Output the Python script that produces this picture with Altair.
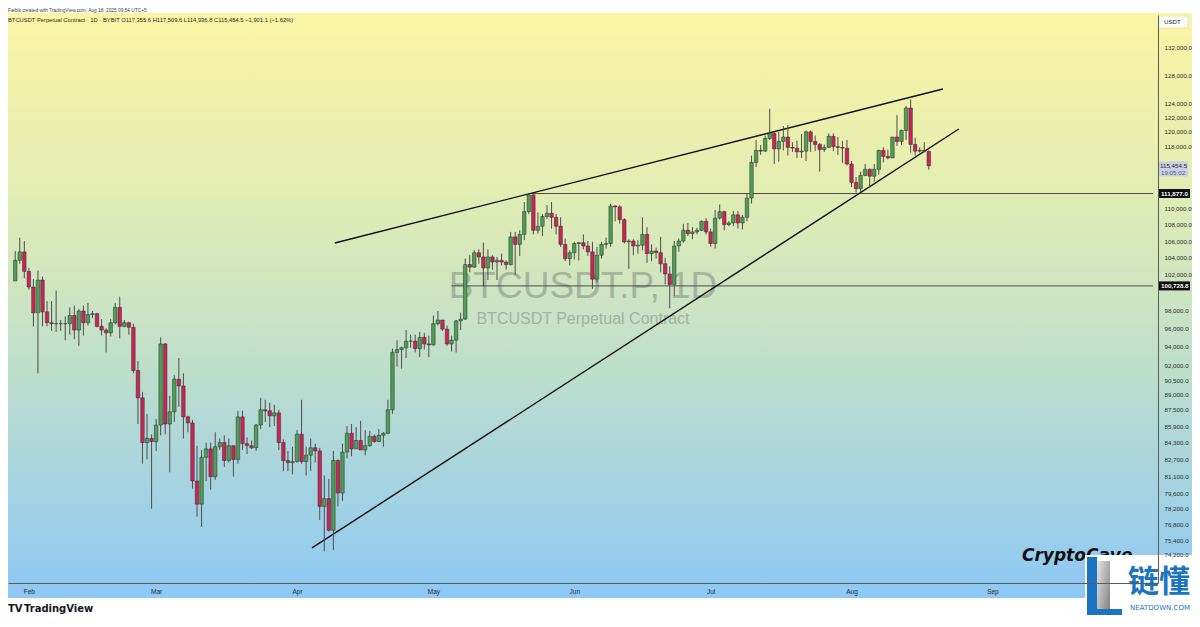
import altair as alt
import pandas as pd

# ---------------- data (thousands of USDT, daily, 2025-01-29 .. 2025-08-18) -------------
start_date = "2025-01-29"
end_date = "2025-08-18"

opens = [
    101.3, 103.7, 104.7,
    102.4, 100.6, 97.7, 101.4, 97.8, 96.6, 96.5, 96.5, 96.5, 96.5, 97.4, 95.8, 97.9, 96.6, 97.5, 97.6, 96.2, 95.8, 95.5, 96.6, 98.3, 96.2, 96.6, 96.1, 91.5, 88.7, 84.3, 84.7,
    84.4, 86.0, 94.3, 86.1, 87.3, 90.6, 89.9, 86.8, 86.2, 80.7, 78.6, 82.9, 83.7, 81.1, 83.9, 84.3, 82.6, 84.0, 82.7, 86.8, 84.2, 84.0, 83.8, 86.0, 87.5, 87.4, 86.9, 87.2, 84.3, 82.6, 82.4,
    82.5, 85.1, 82.5, 83.1, 83.8, 83.5, 78.4, 79.1, 76.3, 82.6, 79.6, 83.4, 85.2, 83.7, 84.5, 83.6, 84.0, 84.9, 84.4, 85.0, 85.2, 87.5, 93.4, 93.7, 93.9, 94.6, 94.6, 93.8, 95.0, 94.3,
    94.2, 96.5, 96.9, 95.9, 94.3, 94.7, 96.8, 97.0, 103.2, 102.9, 104.6, 104.1, 102.8, 104.1, 103.5, 103.7, 103.5, 103.2, 106.5, 105.6, 106.8, 109.6, 111.7, 107.3, 107.8, 109.0, 109.4, 108.9, 107.8, 105.6, 103.9,
    104.6, 105.7, 105.8, 105.4, 104.7, 101.5, 104.3, 105.6, 105.7, 110.3, 110.2, 108.6, 105.9, 106.0, 105.4, 105.5, 106.8, 104.5, 104.8, 104.6, 103.3, 102.1, 100.9, 105.4, 106.0, 107.3, 106.9, 107.1, 107.3, 108.4,
    107.1, 105.7, 108.8, 109.6, 108.0, 108.2, 109.2, 108.2, 108.9, 111.3, 115.9, 117.5, 117.4, 119.1, 119.8, 117.7, 118.7, 119.3, 117.9, 117.8, 117.3, 117.4, 120.0, 118.7, 118.3, 117.6, 117.9, 119.4, 118.0, 117.9, 117.8,
    115.7, 113.3, 112.5, 114.2, 115.0, 114.1, 115.0, 117.5, 116.7, 116.5, 119.3, 118.7, 120.2, 123.3, 118.3, 117.4, 117.5, 117.3556,
]
highs = [
    104.8, 106.4, 106.0,
    102.8, 101.5, 102.5, 101.8, 99.0, 99.0, 100.2, 96.9, 97.3, 98.3, 98.5, 98.1, 98.5, 98.8, 97.9, 97.7, 97.0, 96.0, 97.0, 98.8, 99.5, 96.9, 96.7, 96.5, 92.5, 89.3, 87.1, 85.1,
    86.6, 95.0, 94.4, 88.9, 91.0, 92.8, 91.2, 86.9, 86.5, 84.0, 83.6, 84.3, 84.3, 85.3, 84.7, 85.0, 84.7, 84.0, 87.4, 87.4, 84.8, 84.5, 86.1, 88.7, 88.5, 88.2, 88.0, 87.5, 84.6, 83.5, 83.9,
    85.5, 88.5, 83.9, 84.7, 84.2, 83.8, 81.2, 80.9, 83.5, 82.7, 84.2, 85.9, 86.1, 85.8, 86.4, 85.5, 85.4, 85.1, 85.6, 85.3, 88.5, 93.8, 94.7, 94.0, 95.8, 95.3, 95.3, 95.6, 95.5, 95.2,
    97.4, 97.9, 96.9, 96.3, 95.2, 96.9, 97.7, 103.9, 104.3, 104.9, 105.0, 105.8, 105.0, 104.3, 104.1, 104.5, 103.7, 107.1, 107.1, 107.3, 110.8, 111.9, 111.8, 109.5, 109.3, 110.4, 110.8, 109.3, 108.9, 106.3, 104.9,
    105.9, 105.9, 106.8, 106.0, 105.9, 105.3, 105.9, 106.4, 110.6, 110.4, 110.4, 108.8, 106.2, 106.2, 106.1, 108.9, 107.7, 105.6, 105.2, 106.5, 104.0, 103.0, 106.0, 106.3, 108.1, 108.2, 107.7, 107.6, 108.5, 108.8,
    107.5, 109.8, 110.5, 109.7, 108.4, 109.7, 109.7, 109.2, 111.9, 116.8, 118.9, 118.2, 119.5, 123.2, 119.9, 120.0, 120.8, 120.9, 118.6, 118.8, 119.7, 120.2, 120.2, 119.5, 118.5, 118.3, 119.8, 119.8, 119.3, 118.8, 118.9,
    116.1, 114.0, 114.7, 115.7, 115.1, 115.7, 117.6, 117.9, 117.6, 119.3, 122.3, 120.3, 123.6, 124.5, 119.2, 117.9, 118.6, 117.5096,
]
lows = [
    101.3, 103.3, 101.6,
    100.3, 96.2, 91.2, 96.2, 96.2, 95.7, 95.6, 95.7, 94.7, 95.3, 94.8, 94.1, 95.2, 96.3, 97.1, 96.1, 95.2, 93.4, 95.1, 96.4, 94.9, 96.1, 95.3, 91.2, 86.1, 82.3, 82.7, 78.2,
    83.5, 85.0, 85.1, 81.5, 86.3, 87.8, 84.7, 85.3, 80.0, 77.5, 76.6, 80.7, 79.9, 80.8, 83.6, 82.0, 82.4, 81.1, 82.3, 83.6, 83.2, 83.7, 83.5, 85.6, 86.3, 85.8, 85.9, 83.6, 81.6, 81.6, 81.3,
    82.4, 82.3, 81.2, 81.6, 82.4, 77.2, 74.5, 76.2, 74.6, 78.4, 78.9, 82.8, 83.0, 83.7, 83.6, 83.1, 83.9, 84.3, 84.4, 83.9, 85.1, 87.1, 91.9, 91.7, 92.8, 93.9, 93.4, 92.9, 93.7, 92.9,
    94.1, 96.3, 95.7, 94.1, 93.5, 93.4, 95.8, 96.9, 102.3, 102.8, 103.3, 100.7, 101.4, 102.6, 101.4, 103.1, 102.6, 103.1, 102.0, 104.2, 106.1, 109.3, 106.8, 106.9, 106.6, 108.7, 107.5, 106.8, 105.3, 103.6, 103.1,
    103.8, 103.7, 105.0, 104.2, 100.4, 101.1, 103.9, 105.1, 105.3, 108.4, 108.1, 105.7, 102.7, 104.3, 104.5, 104.9, 103.4, 103.6, 103.9, 102.3, 100.9, 98.2, 99.6, 104.7, 105.8, 106.6, 106.2, 106.8, 107.2, 106.8,
    105.3, 105.1, 108.6, 107.3, 107.8, 107.8, 107.5, 107.4, 108.4, 110.6, 115.3, 116.9, 117.3, 118.9, 115.7, 116.0, 117.5, 116.8, 117.3, 116.5, 116.5, 116.1, 117.3, 117.4, 114.7, 117.3, 117.8, 117.4, 116.9, 115.8, 115.5,
    112.7, 112.0, 112.0, 114.1, 112.6, 113.4, 114.3, 115.9, 116.3, 116.5, 118.1, 118.2, 118.9, 117.2, 116.8, 117.2, 117.2, 114.9368,
]
closes = [
    103.7, 104.7, 102.4,
    100.6, 97.7, 101.4, 97.8, 96.6, 96.5, 96.5, 96.5, 96.5, 97.4, 95.8, 97.9, 96.6, 97.5, 97.6, 96.2, 95.8, 95.5, 96.6, 98.3, 96.2, 96.6, 96.1, 91.5, 88.7, 84.3, 84.7, 84.4,
    86.0, 94.3, 86.1, 87.3, 90.6, 89.9, 86.8, 86.2, 80.7, 78.6, 82.9, 83.7, 81.1, 83.9, 84.3, 82.6, 84.0, 82.7, 86.8, 84.2, 84.0, 83.8, 86.0, 87.5, 87.4, 86.9, 87.2, 84.3, 82.6, 82.4, 82.5,
    85.1, 82.5, 83.1, 83.8, 83.5, 78.4, 79.1, 76.3, 82.6, 79.6, 83.4, 85.2, 83.7, 84.5, 83.6, 84.0, 84.9, 84.4, 85.0, 85.2, 87.5, 93.4, 93.7, 93.9, 94.6, 94.6, 93.8, 95.0, 94.3, 94.2,
    96.5, 96.9, 95.9, 94.3, 94.7, 96.8, 97.0, 103.2, 102.9, 104.6, 104.1, 102.8, 104.1, 103.5, 103.7, 103.5, 103.2, 106.5, 105.6, 106.8, 109.6, 111.7, 107.3, 107.8, 109.0, 109.4, 108.9, 107.8, 105.6, 103.9, 104.6,
    105.7, 105.8, 105.4, 104.7, 101.5, 104.3, 105.6, 105.7, 110.3, 110.2, 108.6, 105.9, 106.0, 105.4, 105.5, 106.8, 104.5, 104.8, 104.6, 103.3, 102.1, 100.9, 105.4, 106.0, 107.3, 106.9, 107.1, 107.3, 108.4, 107.1,
    105.7, 108.8, 109.6, 108.0, 108.2, 109.2, 108.2, 108.9, 111.3, 115.9, 117.5, 117.4, 119.1, 119.8, 117.7, 118.7, 119.3, 117.9, 117.8, 117.3, 117.4, 120.0, 118.7, 118.3, 117.6, 117.9, 119.4, 118.0, 117.9, 117.8, 115.7,
    113.3, 112.5, 114.2, 115.0, 114.1, 115.0, 117.5, 116.7, 116.5, 119.3, 118.7, 120.2, 123.3, 118.3, 117.4, 117.5, 117.4, 115.4545,
]

month_ticks = [0, 28, 59, 89, 120, 150, 181, 212]          # days after Feb 1
month_names = ["Feb", "Mar", "Apr", "May", "Jun", "Jul", "Aug", "Sep"]
# labels that stay visible (the ones under the price badges are hidden in the reference)
price_ticks = [132000, 128000, 124000, 122000, 120000, 118000,
               110000, 108000, 106000, 104000, 102000, 98000, 96000, 94000, 92000,
               90500, 89000, 87500, 85900, 84300, 82700, 81100, 79600, 78200, 76800, 75400, 74200]

trend_name = ["upper", "upper", "lower", "lower"]
trend_day = [67.3, 201.1, 62.3, 204.6]
trend_price = [105764, 125991, 74787, 120393]

level_price = [111877.0, 100728.8]
level_label = ["111,877.0", "100,728.8"]
level_from_day = [110, 93]

last_price = [115454.5]
last_label = ["115,454.5"]
countdown = ["19:05:02"]

header = ("BTCUSDT Perpetual Contract · 1D · BYBIT   O117,355.6   H117,509.6   "
          "L114,936.8   C115,454.5   −1,901.1 (−1.62%)")
credit = "Faibik created with TradingView.com, Aug 18, 2025 09:54 UTC+5"

# ---------------- frames -----------------
dates = pd.date_range(start_date, end_date, freq="D")
assert len(dates) == len(opens) == len(highs) == len(lows) == len(closes)
df = pd.DataFrame({
    "date": dates.strftime("%Y-%m-%d"),
    "d": (dates - pd.Timestamp("2025-02-01")).days,
    "open": [v * 1000 for v in opens],
    "high": [v * 1000 for v in highs],
    "low": [v * 1000 for v in lows],
    "close": [v * 1000 for v in closes],
})
df["dir"] = ["up" if c >= o else "down" for o, c in zip(df["open"], df["close"])]

W, H = 1150, 568
PT, PR, PB = 7, 34, 32
TOTAL_W = W + PR
X_START, X_END = -3.4896, 247.33

trend_df = pd.DataFrame({"line": trend_name, "d": trend_day, "p": trend_price})
level_df = pd.DataFrame({"p": level_price, "label": level_label,
                         "d0": level_from_day, "d1": [X_END] * 2})
last_df = pd.DataFrame({"p": last_price, "label": last_label, "cd": countdown})
one = pd.DataFrame({"k": [0]})

xs = alt.Scale(domain=[X_START, X_END], nice=False, zero=False)
ys = alt.Scale(type="log", domain=[71866, 137043], nice=False)
FONT = "Liberation Sans"

X_AX = alt.Axis(values=month_ticks, title=None, ticks=False, grid=False, zindex=1,
                labelExpr="['Feb','Mar','Apr','May','Jun','Jul','Aug','Sep'][indexof([0,28,59,89,120,150,181,212], datum.value)]",
                domainColor="#5a5a5a", labelColor="#2a2a2a", labelFontSize=6.5,
                labelFont=FONT, labelPadding=5, labelOverlap=False)
Y_AX = alt.Axis(orient="right", values=price_ticks, format=",.1f", title=None, zindex=1,
                ticks=False, grid=False, domainColor="#5a5a5a", labelColor="#2a2a2a",
                labelFontSize=6.2, labelFont=FONT, labelPadding=6, labelOverlap=False)

GREEN, RED = "#4E9E55", "#CC2457"

bg = alt.Chart(one).mark_rect(
    fill=alt.Gradient(gradient="linear", x1=0, x2=0, y1=0, y2=1, stops=[
        alt.GradientStop(color="#FBF4A4", offset=0),
        alt.GradientStop(color="#E3EDB3", offset=0.3),
        alt.GradientStop(color="#BFDFCB", offset=0.6),
        alt.GradientStop(color="#8EC8F5", offset=1),
    ])
).encode(x=alt.value(0), x2=alt.value(TOTAL_W), y=alt.value(-2), y2=alt.value(H + 15))

wm1 = alt.Chart(one).mark_text(text="BTCUSDT.P, 1D", fontSize=37, font=FONT,
                               color="#7a857f", opacity=0.5, align="center",
                               baseline="middle").encode(x=alt.value(575), y=alt.value(272))
wm2 = alt.Chart(one).mark_text(text="BTCUSDT Perpetual Contract", fontSize=16, font=FONT,
                               color="#7a857f", opacity=0.5, align="center",
                               baseline="middle").encode(x=alt.value(575), y=alt.value(304))

levels = alt.Chart(level_df).mark_rule(color="#4a4a4a", strokeWidth=1).encode(
    x=alt.X("d0:Q", scale=xs, axis=X_AX), x2="d1:Q",
    y=alt.Y("p:Q", scale=ys, axis=Y_AX))

trends = alt.Chart(trend_df).mark_line(color="#111111", strokeWidth=1.4).encode(
    x=alt.X("d:Q", scale=xs, axis=X_AX), y=alt.Y("p:Q", scale=ys, axis=Y_AX),
    detail="line:N")

wicks = alt.Chart(df).mark_rule(color="#4d4d4d", strokeWidth=1).encode(
    x=alt.X("d:Q", scale=xs, axis=X_AX),
    y=alt.Y("low:Q", scale=ys, axis=Y_AX), y2="high:Q")

bodies = alt.Chart(df).mark_bar(size=3.5, stroke="#2a2a2a", strokeWidth=0.5).encode(
    x=alt.X("d:Q", scale=xs, axis=X_AX),
    y=alt.Y("open:Q", scale=ys, axis=Y_AX), y2="close:Q",
    color=alt.Color("dir:N", scale=alt.Scale(domain=["up", "down"], range=[GREEN, RED]),
                    legend=None))

badge = alt.Chart(level_df).mark_point(
    shape="M-1,-0.28L1,-0.28L1,0.28L-1,0.28Z", size=1024, filled=True,
    color="#0d0d0d", opacity=1, strokeWidth=0
).encode(x=alt.value(W + 16), y=alt.Y("p:Q", scale=ys, axis=Y_AX))
badge_txt = alt.Chart(level_df).mark_text(
    align="left", baseline="middle", fontSize=6.2, font=FONT, fontWeight="bold",
    color="white").encode(x=alt.value(W + 3), y=alt.Y("p:Q", scale=ys, axis=Y_AX),
                          text="label:N")

last_badge = alt.Chart(last_df).mark_point(
    shape="M-1,-0.3L1,-0.3L1,0.7L-1,0.7Z", size=900, filled=True,
    color="#CBD0E6", opacity=1, strokeWidth=0
).encode(x=alt.value(W + 15), y=alt.Y("p:Q", scale=ys, axis=Y_AX))
last_txt = alt.Chart(last_df).mark_text(
    align="left", baseline="middle", fontSize=6.2, font=FONT, color="#2a2a2a"
).encode(x=alt.value(W + 2), y=alt.Y("p:Q", scale=ys, axis=Y_AX), text="label:N")
last_cd = alt.Chart(last_df).mark_text(
    align="left", baseline="middle", fontSize=6.2, font=FONT, color="#555a70", dy=7
).encode(x=alt.value(W + 3), y=alt.Y("p:Q", scale=ys, axis=Y_AX), text="cd:N")

usdt_box = alt.Chart(one).mark_rect(fill="#fbfbf3", stroke="#d8d8c8", strokeWidth=0.5).encode(
    x=alt.value(W + 1), x2=alt.value(W + 30), y=alt.value(1), y2=alt.value(13))
usdt_txt = alt.Chart(one).mark_text(text="USDT", fontSize=6.2, font=FONT, color="#333",
                                    align="left", baseline="middle").encode(
    x=alt.value(W + 6), y=alt.value(7))

head_txt = alt.Chart(one).mark_text(text=header, fontSize=5.8, font=FONT, color="#2a2a2a",
                                    align="left", baseline="middle").encode(
    x=alt.value(0), y=alt.value(5))
credit_txt = alt.Chart(one).mark_text(text=credit, fontSize=4.8, font=FONT, color="#444",
                                      align="left", baseline="middle").encode(
    x=alt.value(0), y=alt.value(-4))

cave = alt.Chart(one).mark_text(text="CryptoCave", fontSize=17, font="DejaVu Sans",
                                fontWeight="bold", fontStyle="italic", color="#111",
                                align="left", baseline="middle").encode(
    x=alt.value(1014), y=alt.value(541))

logo_box = alt.Chart(one).mark_rect(fill="white").encode(
    x=alt.value(1077), x2=alt.value(TOTAL_W), y=alt.value(540), y2=alt.value(H + 50))
logo_gray = alt.Chart(one).mark_rect(
    fill=alt.Gradient(gradient="linear", x1=0, x2=1, y1=0, y2=1, stops=[
        alt.GradientStop(color="#e6e6e6", offset=0),
        alt.GradientStop(color="#6e6e6e", offset=1)])
).encode(x=alt.value(1089), x2=alt.value(1102), y=alt.value(546), y2=alt.value(H + 50))
logo_blue_v = alt.Chart(one).mark_rect(fill="#1B74C1").encode(
    x=alt.value(1079), x2=alt.value(1089), y=alt.value(542), y2=alt.value(H + 50))
logo_blue_h = alt.Chart(one).mark_rect(fill="#1B74C1").encode(
    x=alt.value(1089), x2=alt.value(1114), y=alt.value(594), y2=alt.value(H + 50))
logo_cn = alt.Chart(one).mark_text(text="链懂", fontSize=31, font="Noto Sans CJK SC",
                                   fontWeight="bold", color="#1B74C1", align="center",
                                   baseline="middle").encode(
    x=alt.value(1151), y=alt.value(568))
logo_en = alt.Chart(one).mark_text(text="NEATDOWN.COM", fontSize=7, font="DejaVu Sans",
                                   color="#1B74C1", align="center",
                                   baseline="middle").encode(
    x=alt.value(1152), y=alt.value(593))

tv_mark = alt.Chart(one).mark_text(text="TV", fontSize=10, font="DejaVu Sans",
                                   fontWeight="bold", color="#131722", align="left",
                                   baseline="middle").encode(
    x=alt.value(0), y=alt.value(H + 26))
tv_txt = alt.Chart(one).mark_text(text="TradingView", fontSize=10, font="DejaVu Sans",
                                  fontWeight="bold", color="#131722", align="left",
                                  baseline="middle").encode(
    x=alt.value(16), y=alt.value(H + 26))

chart = alt.layer(
    bg, wm1, wm2, levels, trends, wicks, bodies,
    badge, badge_txt, last_badge, last_txt, last_cd,
    usdt_box, usdt_txt, head_txt, credit_txt,
    cave, logo_box, logo_gray, logo_blue_v, logo_blue_h, logo_cn, logo_en,
    tv_mark, tv_txt,
).properties(
    width=W, height=H, autosize="none",
    padding={"left": 0, "top": PT, "right": PR, "bottom": PB},
).configure_view(strokeWidth=0).configure(background="white")

chart.save("out.html", embed_options={"renderer": "svg", "actions": False})
